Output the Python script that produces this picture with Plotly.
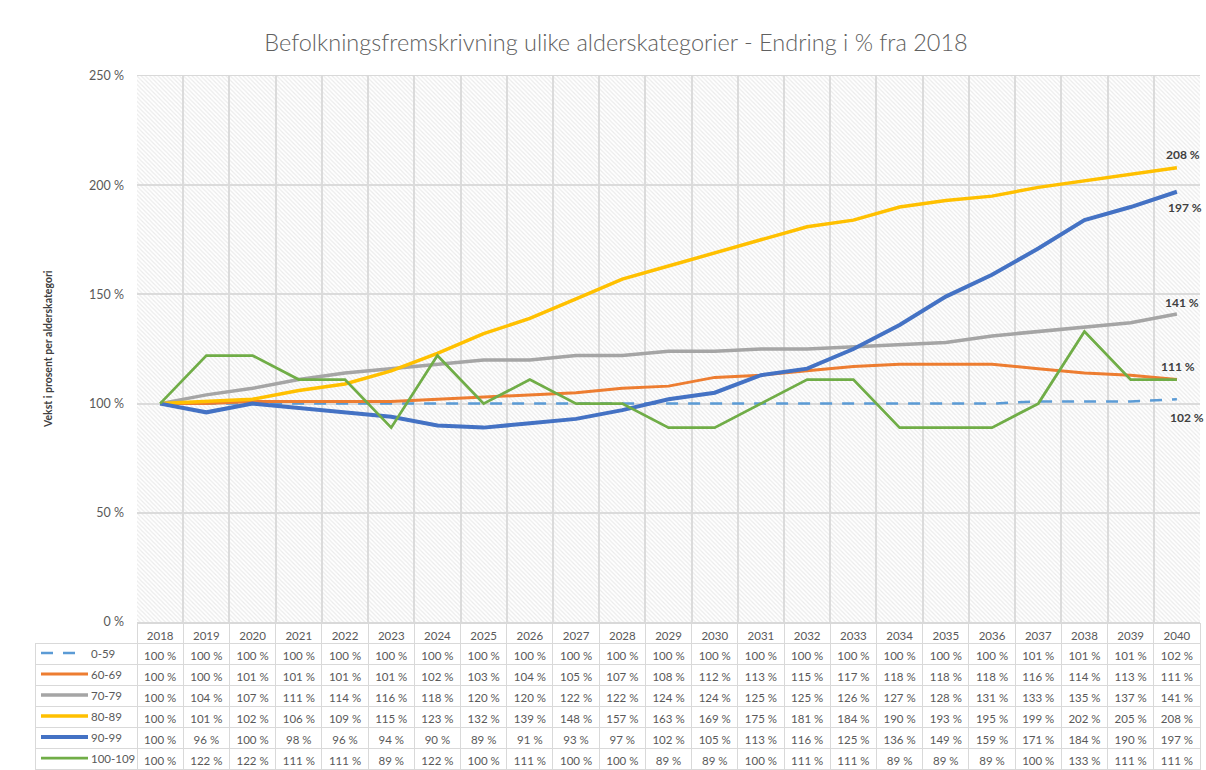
import plotly.graph_objects as go

years = list(range(2018, 2041))
series_names = ["0-59", "60-69", "70-79", "80-89", "90-99", "100-109"]
s_0_59 = [100, 100, 100, 100, 100, 100, 100, 100, 100, 100, 100, 100, 100, 100, 100, 100, 100, 100, 100, 101, 101, 101, 102]
s_60_69 = [100, 100, 101, 101, 101, 101, 102, 103, 104, 105, 107, 108, 112, 113, 115, 117, 118, 118, 118, 116, 114, 113, 111]
s_70_79 = [100, 104, 107, 111, 114, 116, 118, 120, 120, 122, 122, 124, 124, 125, 125, 126, 127, 128, 131, 133, 135, 137, 141]
s_80_89 = [100, 101, 102, 106, 109, 115, 123, 132, 139, 148, 157, 163, 169, 175, 181, 184, 190, 193, 195, 199, 202, 205, 208]
s_90_99 = [100, 96, 100, 98, 96, 94, 90, 89, 91, 93, 97, 102, 105, 113, 116, 125, 136, 149, 159, 171, 184, 190, 197]
s_100_109 = [100, 122, 122, 111, 111, 89, 122, 100, 111, 100, 100, 89, 89, 100, 111, 111, 89, 89, 89, 100, 133, 111, 111]
all_series = [s_0_59, s_60_69, s_70_79, s_80_89, s_90_99, s_100_109]
y_ticks = [0, 50, 100, 150, 200, 250]
y_tick_labels = [f"{v} %" for v in y_ticks]

colors = ["#5B9BD5", "#ED7D31", "#A5A5A5", "#FFC000", "#4472C4", "#70AD47"]
widths = [2.5, 3, 3.5, 3.5, 4, 2.75]
dashes = ["12px,10px", "solid", "solid", "solid", "solid", "solid"]
# legend key right end in px
key_end = [77, 88, 88, 88, 88, 88]
# end label pixel offsets (None = no label)
label_shift = [(10, -18), (1, 13), (5, 12), (6, 13), (8, -16), None]

W, H = 1206, 770
def px_x(p):
    return p / W
def px_y(p):
    return 1 - p / H

FONT = "Lato"
TXT = "#595959"
NB = "\u00a0"

fig = go.Figure()

# hatched plot background
fig.add_trace(go.Bar(
    x=years, y=[y_ticks[-1]] * len(years), width=1,
    marker=dict(color="rgba(255,255,255,0)", line=dict(width=0),
                pattern=dict(shape="\\", fgcolor="#d8d8d8", size=3, solidity=0.4, fillmode="overlay")),
    hoverinfo="skip", showlegend=False))

for name, vals, c, w, d in zip(series_names, all_series, colors, widths, dashes):
    fig.add_trace(go.Scatter(x=years, y=vals, mode="lines", name=name,
                             line=dict(color=c, width=w, dash=d), showlegend=False))

# end labels
for vals, sh in zip(all_series, label_shift):
    if sh is None:
        continue
    fig.add_annotation(x=years[-1], y=vals[-1], text=f"<b>{vals[-1]}{NB}%</b>", showarrow=False,
                       xshift=sh[0], yshift=sh[1], font=dict(family=FONT, size=12, color="#404040"))

# data table
header_vals = [""] + [str(y) for y in years]
cell_vals = [[""] * len(series_names)] + [[f"{s[i]}{NB}%" for s in all_series] for i in range(len(years))]
fig.add_trace(go.Table(
    domain=dict(x=[px_x(35), px_x(1200)], y=[0, px_y(623)]),
    columnwidth=[102] + [46.2] * len(years),
    header=dict(values=header_vals, height=20, align="center",
                fill=dict(color=["rgba(255,255,255,0)"] + ["white"] * len(years)),
                line=dict(color=["rgba(255,255,255,0)"] + ["#d9d9d9"] * len(years), width=1),
                font=dict(family=FONT, size=11.5, color=TXT)),
    cells=dict(values=cell_vals, height=21, align="center",
               fill=dict(color="white"),
               line=dict(color="#d9d9d9", width=1),
               font=dict(family=FONT, size=11.5, color=TXT))))

# legend keys inside table first column
for i, (name, c, w, d, ke) in enumerate(zip(series_names, colors, widths, dashes, key_end)):
    yc = px_y(653 + 21 * i)
    fig.add_shape(type="line", xref="paper", yref="paper", x0=px_x(41), x1=px_x(ke), y0=yc, y1=yc,
                  line=dict(color=c, width=w, dash=d))
    fig.add_annotation(xref="paper", yref="paper", x=px_x(89), y=yc, xanchor="left", yanchor="middle",
                       text=name, showarrow=False, font=dict(family=FONT, size=11.5, color=TXT))

# y axis title
fig.add_annotation(xref="paper", yref="paper", x=px_x(40), y=px_y(349), text="<b>Vekst i prosent per alderskategori</b>",
                   textangle=-90, showarrow=False, font=dict(family=FONT, size=10.5, color="#404040"))

fig.update_layout(
    width=W, height=H,
    margin=dict(l=0, r=0, t=0, b=0, autoexpand=False),
    paper_bgcolor="white", plot_bgcolor="white",
    title=dict(text="Befolkningsfremskrivning ulike alderskategorier - Endring i % fra 2018",
               x=px_x(616), xanchor="center", y=px_y(43), yanchor="middle",
               font=dict(family=FONT, size=23.5, color="#606060", weight=300)),
    xaxis=dict(domain=[px_x(137), px_x(1200)], range=[years[0] - 0.5, years[-1] + 0.5],
               tick0=years[0] - 0.5, dtick=1, showticklabels=False, ticks="", automargin=False,
               showgrid=True, gridcolor="#dcdcdc", gridwidth=1.5, zeroline=False,
               showline=True, linecolor="#d9d9d9", mirror=True),
    yaxis=dict(domain=[px_y(622), px_y(76)], range=[y_ticks[0], y_ticks[-1]],
               tickmode="array", tickvals=y_ticks, ticktext=y_tick_labels, automargin=False,
               showgrid=True, gridcolor="#dcdcdc", gridwidth=1.5, zeroline=False,
               ticklabelstandoff=12, ticks="",
               tickfont=dict(family=FONT, size=12.5, color=TXT)),
    bargap=0, hovermode=False,
)

fig.write_html("out.html", config={"displayModeBar": False},
               post_script="document.body.style.margin='0';document.body.style.overflow='hidden';")
